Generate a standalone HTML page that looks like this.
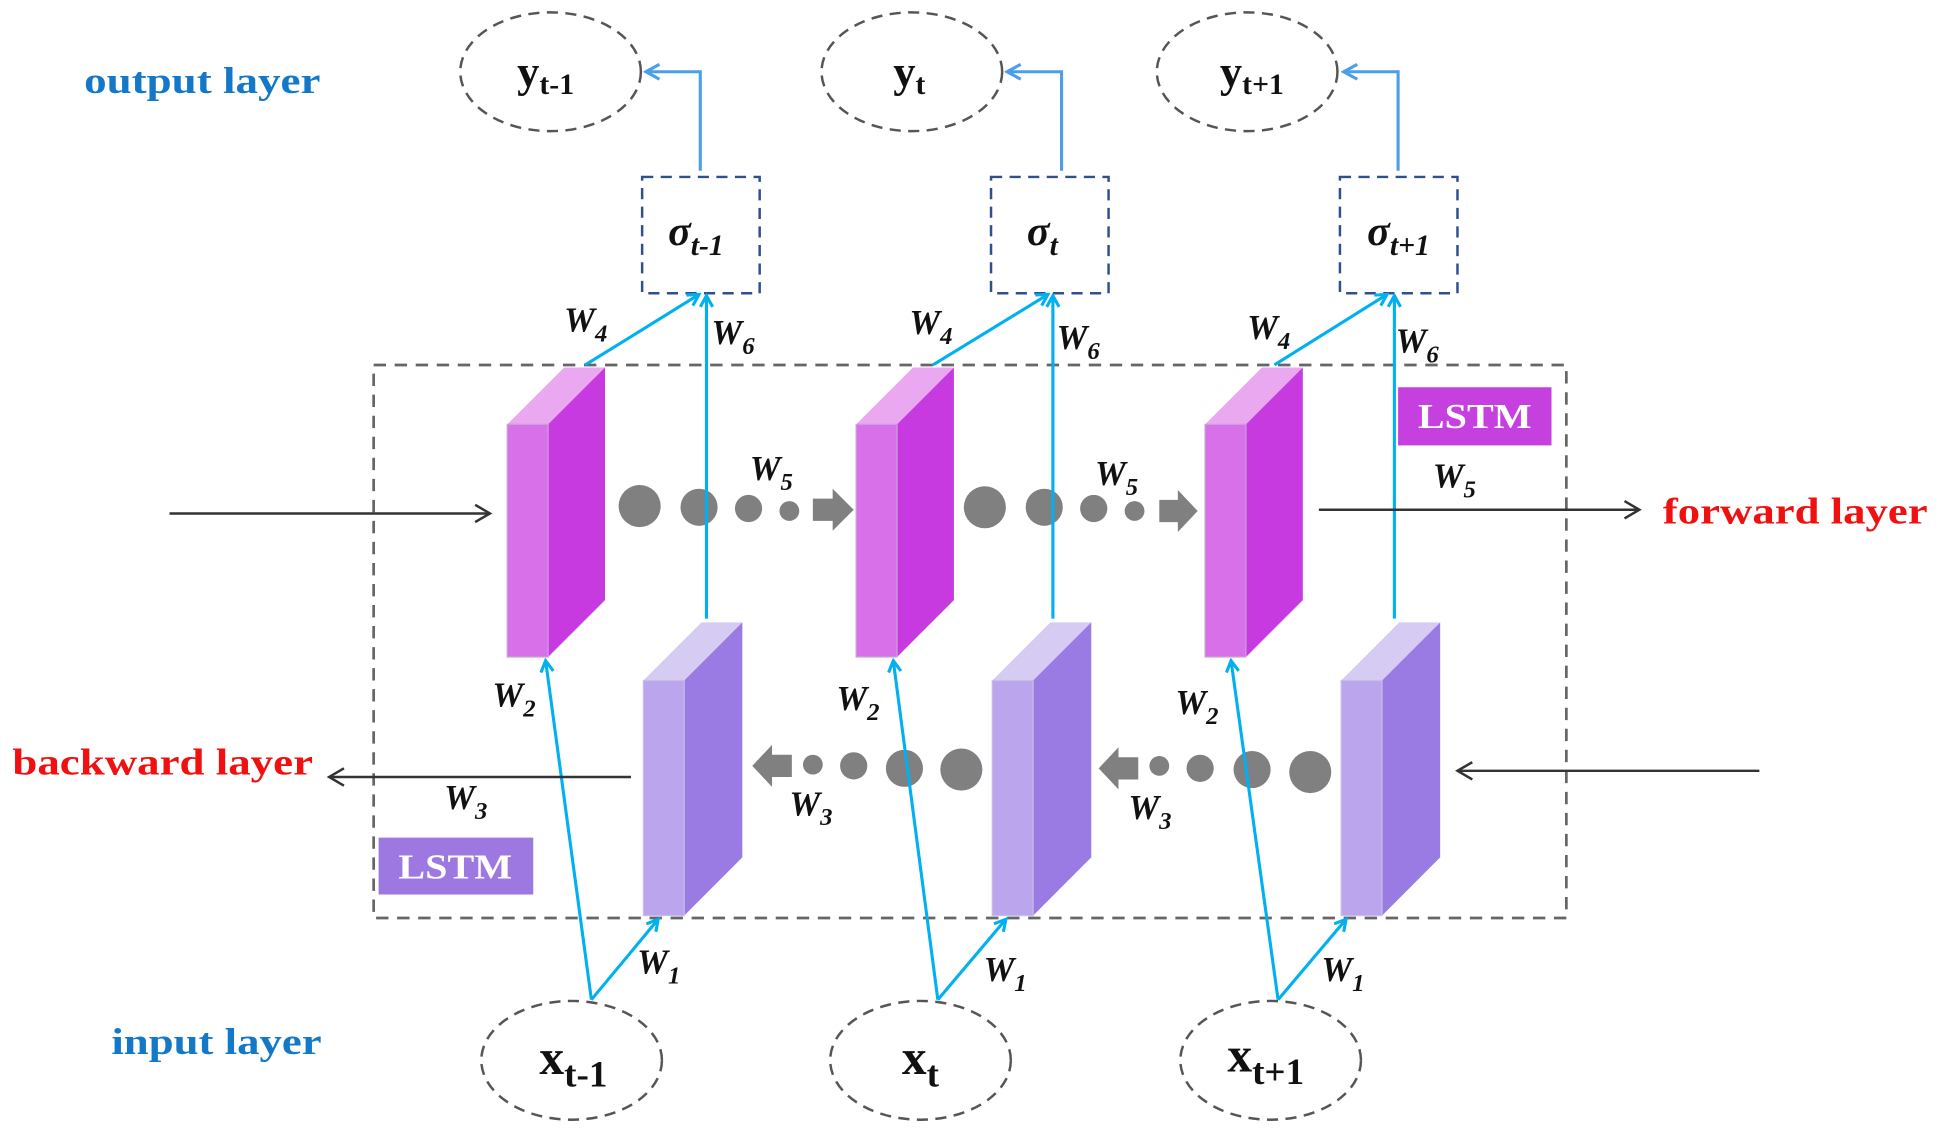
<!DOCTYPE html>
<html><head><meta charset="utf-8"><style>html,body{margin:0;padding:0;background:#fff}svg{display:block}</style></head>
<body>
<svg width="1940" height="1140" viewBox="0 0 1568 921.4" preserveAspectRatio="none" xmlns="http://www.w3.org/2000/svg" font-family="Liberation Serif, serif">
<defs>
<marker id="ac" markerWidth="12" markerHeight="12" refX="10" refY="6" orient="auto" markerUnits="userSpaceOnUse"><path d="M1,1 L10,6 L1,11" fill="none" stroke="#00b0f0" stroke-width="2.5"/></marker>
<marker id="ab" markerWidth="14" markerHeight="14" refX="12" refY="7" orient="auto" markerUnits="userSpaceOnUse"><path d="M1,1 L12,7 L1,13" fill="none" stroke="#4a9fe8" stroke-width="2.5"/></marker>
<marker id="ak" markerWidth="16" markerHeight="16" refX="13" refY="8" orient="auto" markerUnits="userSpaceOnUse"><path d="M1,1 L13,8 L1,15" fill="none" stroke="#333" stroke-width="2"/></marker>
</defs>
<rect width="1568" height="922" fill="#fff"/>
<!-- main dashed box -->
<rect x="302" y="295" width="964" height="447" fill="none" stroke="#666" stroke-width="2.2" stroke-dasharray="10,7"/>
<!-- ellipses -->
<g fill="none" stroke="#555" stroke-width="2" stroke-dasharray="9,6">
<ellipse cx="445" cy="58" rx="73" ry="48"/><ellipse cx="737" cy="58" rx="73" ry="48"/><ellipse cx="1008" cy="58" rx="73" ry="48"/>
<ellipse cx="462" cy="857" rx="73" ry="48"/><ellipse cx="744" cy="857" rx="73" ry="48"/><ellipse cx="1027" cy="857" rx="73" ry="48"/>
</g>
<!-- sigma boxes -->
<g fill="none" stroke="#2f4f8f" stroke-width="2" stroke-dasharray="9,6">
<rect x="519" y="143" width="95" height="94"/><rect x="801" y="143" width="95" height="94"/><rect x="1083" y="143" width="95" height="94"/>
</g>
<!-- output arrows -->
<g fill="none" stroke="#4a9fe8" stroke-width="2.5" marker-end="url(#ab)">
<path d="M566,138 V58 H522"/><path d="M858,138 V58 H814"/><path d="M1130,138 V58 H1086"/>
</g>
<!-- pink blocks -->
<g id="pk">
<polygon points="410,343 443,343 489,297 456,297" fill="#e9a8ef"/>
<polygon points="443,343 489,297 489,485 443,531" fill="#c63ae0"/>
<rect x="410" y="343" width="33" height="188" fill="#d870ea" stroke="#c9a0d8" stroke-width="1"/>
</g>
<use href="#pk" x="282"/><use href="#pk" x="564"/>
<!-- purple blocks -->
<g id="pp">
<polygon points="520,550 553,550 600,503 567,503" fill="#d6cbf2"/>
<polygon points="553,550 600,503 600,693 553,740" fill="#9a7be3"/>
<rect x="520" y="550" width="33" height="190" fill="#bba6ee" stroke="#c8bce8" stroke-width="1"/>
</g>
<use href="#pp" x="282"/><use href="#pp" x="564"/>
<!-- dots forward -->
<g fill="#808080">
<circle cx="517" cy="409" r="17"/><circle cx="565" cy="410" r="15"/><circle cx="605" cy="411" r="11"/><circle cx="638" cy="413" r="8"/>
<polygon points="657,403 673,403 673,395 690,412 673,429 673,421 657,421"/>
<circle cx="796" cy="410" r="17"/><circle cx="844" cy="410" r="15"/><circle cx="884" cy="411" r="11"/><circle cx="917" cy="413" r="8"/>
<polygon points="937,404 952,404 952,396 968,413 952,430 952,422 937,422"/>
<circle cx="777" cy="622" r="17"/><circle cx="731" cy="621" r="15"/><circle cx="690" cy="619" r="11"/><circle cx="657" cy="618" r="8"/>
<polygon points="640,610 624,610 624,602 608,619 624,636 624,628 640,628"/>
<circle cx="1059" cy="624" r="17"/><circle cx="1012" cy="622" r="15"/><circle cx="970" cy="621" r="11"/><circle cx="937" cy="619" r="8"/>
<polygon points="920,612 904,612 904,604 888,621 904,638 904,630 920,630"/>
</g>
<!-- cyan connections -->
<g fill="none" stroke="#00b0f0" stroke-width="2.5" marker-end="url(#ac)">
<path d="M473,295 L565,238"/><path d="M571,500 V239"/>
<path d="M754,295 L847,238"/><path d="M851,500 V239"/>
<path d="M1030,295 L1121,238"/><path d="M1127,500 V239"/>
<path d="M478,808 L441,534"/><path d="M478,808 L532,743"/>
<path d="M758,808 L722,534"/><path d="M758,808 L813,743"/>
<path d="M1033,808 L995,534"/><path d="M1033,808 L1088,743"/>
</g>
<!-- black arrows -->
<g stroke="#333" stroke-width="2" marker-end="url(#ak)">
<line x1="137" y1="415" x2="396" y2="415"/><line x1="1066" y1="412" x2="1325" y2="412"/>
<line x1="510" y1="628" x2="266" y2="628"/><line x1="1422" y1="623" x2="1178" y2="623"/>
</g>
<!-- LSTM boxes -->
<rect x="1130" y="313" width="124" height="47" fill="#c63fdf"/>
<rect x="306" y="677" width="125" height="46" fill="#9d78e0"/>
<g fill="#fff" font-weight="bold" font-size="28" text-anchor="middle">
<text x="1192" y="346" textLength="92" lengthAdjust="spacingAndGlyphs">LSTM</text>
<text x="368" y="710" textLength="92" lengthAdjust="spacingAndGlyphs">LSTM</text>
</g>
<!-- layer labels -->
<g font-weight="bold" font-size="30">
<text x="68" y="75" fill="#1478c8" textLength="191" lengthAdjust="spacingAndGlyphs">output layer</text>
<text x="90" y="852" fill="#1478c8" textLength="170" lengthAdjust="spacingAndGlyphs">input layer</text>
<text x="1344" y="423" fill="#f01010" textLength="214" lengthAdjust="spacingAndGlyphs">forward layer</text>
<text x="10" y="626" fill="#f01010" textLength="243" lengthAdjust="spacingAndGlyphs">backward layer</text>
</g>
<!-- node labels -->
<g font-weight="bold" fill="#111">
<text x="418" y="70" font-size="36">y<tspan font-size="24" dy="6">t-1</tspan></text>
<text x="722" y="70" font-size="36">y<tspan font-size="24" dy="6">t</tspan></text>
<text x="986" y="70" font-size="36">y<tspan font-size="24" dy="6">t+1</tspan></text>
<text x="436" y="868" font-size="40">x<tspan font-size="30" dy="10">t-1</tspan></text>
<text x="729" y="868" font-size="40">x<tspan font-size="30" dy="10">t</tspan></text>
<text x="992" y="866" font-size="40">x<tspan font-size="30" dy="10">t+1</tspan></text>
<g font-style="italic" font-size="34">
<text x="540" y="198">σ<tspan font-size="24" dy="8">t-1</tspan></text>
<text x="830" y="198">σ<tspan font-size="24" dy="8">t</tspan></text>
<text x="1105" y="198">σ<tspan font-size="24" dy="8">t+1</tspan></text>
</g>
</g>
<!-- W labels -->
<g font-weight="bold" font-style="italic" font-size="28" fill="#111">
<text x="456" y="268">W<tspan font-size="20" dy="8">4</tspan></text>
<text x="575" y="278">W<tspan font-size="20" dy="8">6</tspan></text>
<text x="735" y="270">W<tspan font-size="20" dy="8">4</tspan></text>
<text x="854" y="282">W<tspan font-size="20" dy="8">6</tspan></text>
<text x="1008" y="274">W<tspan font-size="20" dy="8">4</tspan></text>
<text x="1128" y="285">W<tspan font-size="20" dy="8">6</tspan></text>
<text x="606" y="388">W<tspan font-size="20" dy="8">5</tspan></text>
<text x="885" y="392">W<tspan font-size="20" dy="8">5</tspan></text>
<text x="1158" y="394">W<tspan font-size="20" dy="8">5</tspan></text>
<text x="398" y="571">W<tspan font-size="20" dy="8">2</tspan></text>
<text x="676" y="574">W<tspan font-size="20" dy="8">2</tspan></text>
<text x="950" y="577">W<tspan font-size="20" dy="8">2</tspan></text>
<text x="359" y="654">W<tspan font-size="20" dy="8">3</tspan></text>
<text x="638" y="659">W<tspan font-size="20" dy="8">3</tspan></text>
<text x="912" y="662">W<tspan font-size="20" dy="8">3</tspan></text>
<text x="515" y="787">W<tspan font-size="20" dy="8">1</tspan></text>
<text x="795" y="793">W<tspan font-size="20" dy="8">1</tspan></text>
<text x="1068" y="793">W<tspan font-size="20" dy="8">1</tspan></text>
</g>
</svg>
</body></html>
